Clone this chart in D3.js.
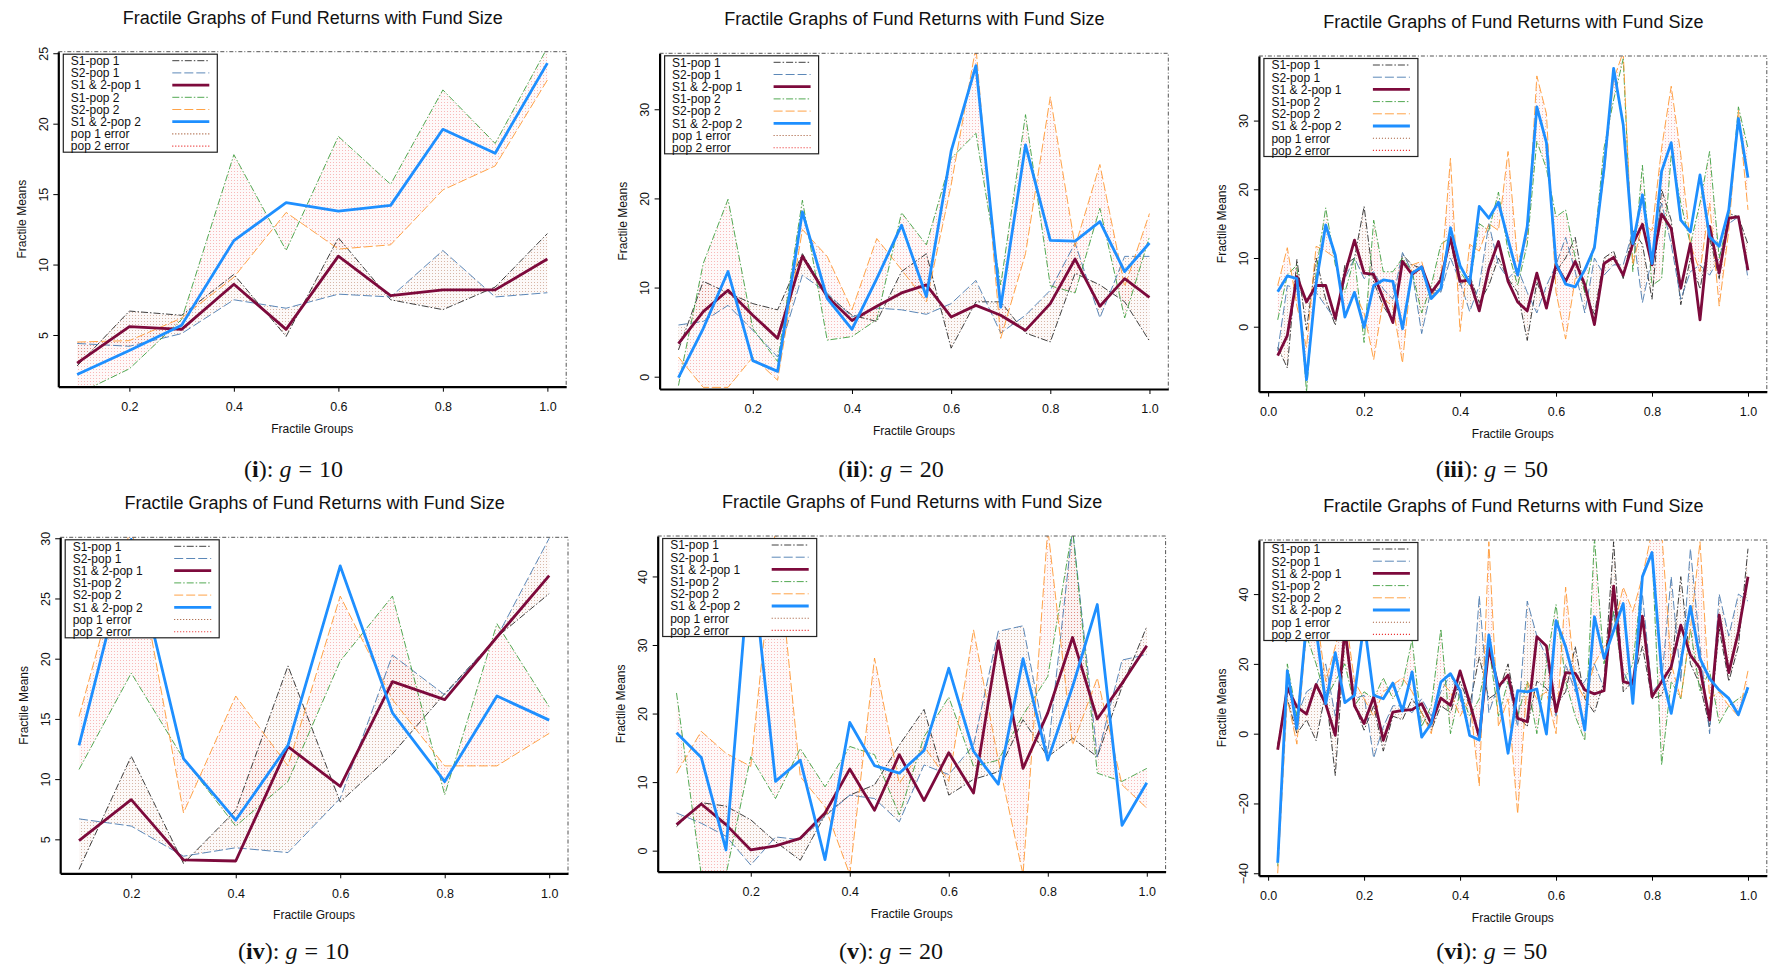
<!DOCTYPE html>
<html>
<head>
<meta charset="utf-8">
<script src="https://cdn.jsdelivr.net/npm/d3@7"></script>
<style>
  body { margin: 0; background: #fff; }
  svg { display: block; }
  text { font-family: "Liberation Sans", Arial, sans-serif; fill: #111; }
</style>
</head>
<body>
<svg id="chart" width="1769" height="970"></svg>
<script>
// ------------------
// Fractile groups (x categories)
// ------------------
const fr10 = [0.1, 0.2, 0.3, 0.4, 0.5, 0.6, 0.7, 0.8, 0.9, 1.0]
const fr20 = [0.05, 0.1, 0.15, 0.2, 0.25, 0.3, 0.35, 0.4, 0.45, 0.5,
  0.55, 0.6, 0.65, 0.7, 0.75, 0.8, 0.85, 0.9, 0.95, 1.0]
const fr50 = [0.02, 0.04, 0.06, 0.08, 0.10, 0.12, 0.14, 0.16, 0.18, 0.20,
  0.22, 0.24, 0.26, 0.28, 0.30, 0.32, 0.34, 0.36, 0.38, 0.40,
  0.42, 0.44, 0.46, 0.48, 0.50, 0.52, 0.54, 0.56, 0.58, 0.60,
  0.62, 0.64, 0.66, 0.68, 0.70, 0.72, 0.74, 0.76, 0.78, 0.80,
  0.82, 0.84, 0.86, 0.88, 0.90, 0.92, 0.94, 0.96, 0.98, 1.00]

// ------------------
// (i) g = 10
// ------------------
const i_S1p1 = [2.8, 6.7, 6.4, 9.3, 4.9, 11.9, 7.5, 6.8, 8.4, 12.2]
const i_S2p1 = [4.4, 4.2, 5.1, 7.5, 6.9, 7.9, 7.7, 11.0, 7.7, 8.0]
const i_S12p1 = [3.0, 5.6, 5.4, 8.6, 5.4, 10.6, 7.8, 8.2, 8.2, 10.4]
const i_S1p2 = [0.8, 2.6, 6.1, 17.8, 11.0, 19.1, 15.7, 22.4, 18.6, 25.4]
const i_S2p2 = [4.5, 4.6, 6.2, 9.1, 13.7, 11.1, 11.4, 15.3, 17.0, 23.1]
const i_S12p2 = [2.2, 3.9, 5.7, 11.7, 14.4, 13.8, 14.2, 19.6, 17.9, 24.3]

// ------------------
// (ii) g = 20
// ------------------
const ii_S1p1 = [3.0, 10.7, 9.4, 8.2, 7.5, 13.8, 9.2, 6.9, 6.2, 11.8, 13.8, 3.2, 8.4, 8.4, 4.9, 3.9, 11.6, 10.3, 8.4, 4.0]
const ii_S2p1 = [5.8, 6.2, 8.0, 5.2, 2.2, 11.4, 9.4, 6.7, 7.7, 7.5, 7.0, 8.2, 10.8, 4.9, 6.9, 9.7, 15.0, 6.6, 13.5, 13.5]
const ii_S12p1 = [3.7, 7.3, 9.7, 6.9, 4.3, 13.5, 9.0, 6.3, 7.9, 9.4, 10.3, 6.7, 8.0, 6.9, 5.2, 8.2, 13.2, 7.9, 11.0, 8.9]
const ii_S1p2 = [-1.0, 12.7, 19.9, 5.4, 1.7, 19.8, 4.1, 4.5, 6.4, 18.4, 14.8, 24.5, 27.3, 10.3, 29.4, 10.2, 9.4, 18.9, 6.6, 15.7]
const ii_S2p2 = [2.2, -1.2, -1.2, 2.2, -0.4, 16.5, 13.5, 7.5, 15.5, 12.0, 8.4, 21.5, 37.0, 4.3, 13.8, 31.4, 14.6, 23.8, 10.1, 18.3]
const ii_S12p2 = [-0.1, 5.4, 11.8, 1.8, 0.6, 18.5, 8.8, 5.3, 11.0, 17.0, 9.0, 25.3, 34.9, 7.8, 26.0, 15.3, 15.2, 17.4, 11.8, 15.0]

// ------------------
// (iii) g = 50
// ------------------
const iii_S1p1 = [-3.0, -6.0, 9.8, -0.5, 10.0, 4.0, 0.2, 9.0, 10.0, 17.5,
  6.5, 3.0, 0.8, 10.5, 9.0, 8.5, 4.0, 7.5, 12.5, 6.0,
  7.5, 3.5, 6.0, 10.0, 7.0, 5.0, -2.0, 6.5, 3.0, 8.0,
  10.0, 13.0, 5.0, 1.8, 10.0, 11.0, 7.0, 14.0, 12.0, 4.0,
  20.0, 15.5, 3.2, 10.0, 5.5, 13.0, 7.0, 16.5, 16.0, 12.0]
const iii_S2p1 = [-3.5, 6.0, 5.5, 4.0, 5.0, 3.0, 1.0, 7.0, 10.0, 7.0,
  8.0, 5.5, 4.0, 10.8, 8.0, -1.0, 5.5, 5.0, 10.0, 6.5,
  2.2, 6.0, 15.0, 9.0, 7.0, 8.5, 5.0, 2.0, 6.0, 9.0,
  13.0, 8.0, 2.0, 10.0, 7.5, 9.0, 9.0, 14.0, 3.5, 10.0,
  18.0, 12.0, 4.0, 8.0, 9.0, 7.5, 10.0, 15.0, 16.0, 7.0]
const iii_S12p1 = [-4.2, -1.3, 7.3, 3.6, 6.0, 6.0, 1.2, 7.7, 12.6, 7.8,
  7.6, 4.1, 0.6, 9.5, 7.6, 8.7, 5.0, 6.8, 13.0, 6.6,
  6.8, 2.3, 8.5, 12.4, 6.6, 3.6, 2.3, 7.8, 2.7, 9.0,
  6.6, 9.5, 6.1, 0.3, 9.2, 10.1, 7.5, 12.1, 14.9, 9.0,
  16.4, 14.3, 5.6, 12.1, 1.0, 14.6, 7.8, 15.8, 16.0, 8.2]
const iii_S1p2 = [1.0, 7.5, 9.0, -9.5, 8.0, 17.3, 9.0, 5.0, 10.0, -2.3,
  15.5, 8.0, 8.0, 10.0, 8.0, 2.0, 6.0, 12.0, 13.0, 8.0,
  6.0, 15.0, 14.0, 19.6, 11.0, 6.0, 12.0, 27.0, 23.0, 16.0,
  17.0, 10.0, 5.0, 12.0, 26.0, 33.0, 39.0, 8.0, 23.5, 6.0,
  7.0, 25.0, 18.0, 12.0, 18.0, 25.5, 10.0, 16.0, 32.0, 26.0]
const iii_S2p2 = [6.0, 11.5, 3.0, -3.0, 11.7, 11.0, 10.0, 1.5, 5.0, 2.0,
  -4.8, 4.0, 3.0, -5.3, 9.0, 9.5, 4.5, 7.0, 24.5, -0.7,
  12.0, 11.0, 15.0, 14.0, 25.5, 9.5, 13.0, 36.5, 31.0, 5.0,
  -1.8, 7.0, 8.0, 12.0, 22.0, 36.0, 40.0, 9.0, 15.0, 14.0,
  26.0, 35.0, 25.0, 12.0, 8.0, 18.0, 3.0, 14.0, 31.5, 17.0]
const iii_S12p2 = [5.1, 7.4, 7.0, -7.7, 6.3, 14.8, 10.4, 1.4, 5.0, -0.1,
  6.0, 6.8, 6.6, -0.3, 7.8, 8.7, 4.1, 5.6, 14.4, 8.9,
  6.3, 17.5, 15.8, 18.1, 12.7, 7.5, 14.6, 32.0, 26.8, 9.2,
  6.2, 5.8, 8.3, 11.5, 23.0, 37.6, 29.4, 12.1, 19.2, 9.2,
  22.6, 26.8, 15.5, 13.8, 22.1, 13.1, 11.7, 17.0, 30.3, 21.7]

// ------------------
// (iv) g = 10
// ------------------
const iv_S1p1 = [2.5, 11.9, 3.0, 7.4, 19.4, 8.1, 12.1, 17.1, 21.8, 25.4]
const iv_S2p1 = [6.7, 6.1, 3.6, 4.3, 3.9, 8.4, 20.3, 17.0, 21.8, 30.0]
const iv_S12p1 = [4.9, 8.3, 3.3, 3.2, 12.7, 9.4, 18.1, 16.6, 21.8, 26.9]
const iv_S1p2 = [10.8, 18.8, 11.7, 6.1, 9.8, 19.8, 25.2, 8.7, 22.9, 16.0]
const iv_S2p2 = [15.2, 31.0, 7.2, 16.9, 11.1, 25.2, 16.6, 11.1, 11.1, 13.8]
const iv_S12p2 = [12.8, 29.9, 11.7, 6.6, 12.8, 27.7, 15.5, 9.8, 16.9, 14.9]

// ------------------
// (v) g = 20
// ------------------
const v_S1p1 = [3.5, 7.0, 6.5, 4.5, 1.3, -1.4, 5.2, 8.1, 9.6, 15.4, 20.6, 8.1, 10.4, 11.5, 19.1, 13.7, 16.4, 13.7, 23.9, 32.7]
const v_S2p1 = [5.5, 4.0, 2.1, -2.1, 2.0, 1.6, 5.0, 8.1, 7.6, 4.2, 12.5, 11.1, 15.4, 32.0, 32.8, 14.2, 47.0, 13.7, 27.8, 28.6]
const v_S12p1 = [3.8, 6.8, 3.8, 0.1, 0.7, 1.8, 5.5, 11.9, 5.9, 14.0, 7.3, 14.3, 8.4, 30.6, 12.0, 20.1, 31.1, 19.2, 24.4, 29.9]
const v_S1p2 = [23.0, -3.5, -3.5, 13.7, 7.6, 14.9, 9.3, 15.2, 14.0, 5.2, 16.6, 22.4, 12.3, 13.2, 19.8, 25.4, 47.0, 11.3, 10.1, 12.0]
const v_S2p2 = [11.3, 17.4, 14.2, 12.3, 47.0, 10.8, 6.4, -3.5, 28.1, 9.8, 15.2, 10.1, 32.2, 13.2, -3.5, 47.0, 15.4, 25.2, 9.6, 6.2]
const v_S12p2 = [17.2, 13.6, 0.1, 44.0, 10.1, 13.2, -1.3, 18.7, 12.4, 11.3, 14.6, 26.6, 14.5, 9.7, 28.0, 13.2, 23.9, 35.9, 3.7, 9.9]

// ------------------
// (vi) g = 50
// ------------------
const vi_S1p1 = [-3, 10, 0, 4, -2, 12, -12, 28, 8, 1,
  8, -5, 5, 4, 10, 6, 1, 8, 6, 15,
  8, 22, 10, 12, 20, 5, 2, 15, 13, 8,
  12, 25, 10, 6, 15, 55, 12, 15, 25, 10,
  11, 18, 45, 20, 14, 2, 30, 15, 25, 53]
const vi_S2p1 = [-4, 14, 5, 12, 14, 20, 5, 30, 10, 11,
  -7, 2, 8, 8, 6, 10, 5, 12, 17, 10,
  0, 39.5, 6, 14, 15, 2, 38, 28, 22, 5,
  20, 12, 15, 20, 13, 35, 18, 12, 40, 12,
  15, 45, 15, 53, 25, 0, 40, 28, 40, 38]
const vi_S12p1 = [-4.6, 13.1, 7.7, 5.6, 14.1, 8.5, -0.5, 30.0, 8.0, 2.9,
  10.5, -1.9, 6.2, 6.7, 6.9, 8.6, 2.9, 10.2, 8.1, 18.0,
  9.0, -0.9, 24.5, 13.5, 16.8, 4.4, 3.4, 27.8, 25.1, 6.3,
  17.5, 17.3, 12.5, 11.4, 12.3, 42.3, 14.9, 14.2, 33.7, 10.6,
  14.9, 19.2, 31.1, 22.5, 18.7, 3.9, 34.0, 17.5, 29.2, 45.0]
const vi_S1p2 = [-38, 20, 5, 28, 20, 10, 15, 20, 8, 12,
  10, 16, 10, 14, 27, 2, 8, 30, 0, 12,
  5, 10, 25, 5, 15, 5, 15, 0, 20, 37,
  15, 5, -2, 56, 20, 35, 15, 20, 45, 52,
  -9, 15, 10, 30, 12, 18, 3, 8, 10, 12]
const vi_S2p2 = [-40, 10, -3, 30, 35, 15, 25, 35, 15, 10,
  5, 12, 14, 16, 12, 6, 0, 15, 12, 5,
  10, -15, 55, 2, 10, -23, 15, 10, 12, 0,
  42, 15, 10, 20, 25, 30, 42, 35, 45, 58,
  58, 20, 10, 30, 55, 10, 12, 8, 5, 18]
const vi_S12p2 = [-37.0, 18.0, 1.5, 32.0, 30.0, 8.6, 23.2, 8.9, 11.0, 32.0,
  11.0, 10.0, 14.5, 6.5, 17.7, -1.0, 2.9, 14.8, 17.2, 12.4,
  -0.5, -1.8, 28.3, 11.6, -5.6, 12.3, 12.0, 12.8, -0.1, 32.4,
  24.9, 14.4, 1.0, 33.5, 21.6, 29.5, 37.3, 8.7, 45.0, 51.9,
  17.5, 5.8, 20.5, 36.5, 21.5, 15.8, 12.5, 10.1, 5.4, 13.3]

// ------------------
// Tick labels
// ------------------
const xTicks02 = [0.2, 0.4, 0.6, 0.8, 1.0]
const xTicks00 = [0.0, 0.2, 0.4, 0.6, 0.8, 1.0]
const legendLabels = ['S1-pop 1', 'S2-pop 1', 'S1 & 2-pop 1', 'S1-pop 2', 'S2-pop 2', 'S1 & 2-pop 2', 'pop 1 error', 'pop 2 error']

// ------------------
// Line styles (same order as legend)
// ------------------
const lineStyles = [
  { color: '#2a2a2a', width: 0.9, dash: '7,2,1.5,2' },
  { color: '#4a7ab0', width: 0.9, dash: '9,3' },
  { color: '#7d0a3c', width: 2.8, dash: null },
  { color: '#3f9f3f', width: 0.9, dash: '7,2,1.5,2' },
  { color: '#ff9933', width: 0.9, dash: '9,3' },
  { color: '#1e8fff', width: 2.8, dash: null },
  { color: '#a0522d', width: 1.1, dash: '1,2' },
  { color: '#e82020', width: 1.1, dash: '1,2' }
]

const panels = [
  { num: 'i', g: 10, xs: fr10, s: [i_S1p1, i_S2p1, i_S12p1, i_S1p2, i_S2p2, i_S12p2],
    xDom: [0.064, 1.036], yDom: [1.33, 25.11], xTicks: xTicks02, yTicks: [5, 10, 15, 20, 25],
    box: [58.3, 51.7, 507.9, 335], cap: [293.5, 477] },
  { num: 'ii', g: 20, xs: fr20, s: [ii_S1p1, ii_S2p1, ii_S12p1, ii_S1p2, ii_S2p2, ii_S12p2],
    xDom: [0.012, 1.038], yDom: [-1.38, 36.28], xTicks: xTicks02, yTicks: [0, 10, 20, 30],
    box: [659.6, 53.3, 508.7, 335.7], cap: [891, 477] },
  { num: 'iii', g: 50, xs: fr50, s: [iii_S1p1, iii_S2p1, iii_S12p1, iii_S1p2, iii_S2p2, iii_S12p2],
    xDom: [-0.0192, 1.0392], yDom: [-9.46, 39.4], xTicks: xTicks00, yTicks: [0, 10, 20, 30],
    box: [1258.9, 56, 507.9, 335.7], cap: [1491.8, 477] },
  { num: 'iv', g: 10, xs: fr10, s: [iv_S1p1, iv_S2p1, iv_S12p1, iv_S1p2, iv_S2p2, iv_S12p2],
    xDom: [0.064, 1.036], yDom: [2.18, 30.08], xTicks: xTicks02, yTicks: [5, 10, 15, 20, 25, 30],
    box: [60.2, 537.3, 507.8, 336], cap: [293.5, 959] },
  { num: 'v', g: 20, xs: fr20, s: [v_S1p1, v_S2p1, v_S12p1, v_S1p2, v_S2p2, v_S12p2],
    xDom: [0.012, 1.038], yDom: [-3.07, 45.9], xTicks: xTicks02, yTicks: [0, 10, 20, 30, 40],
    box: [657.7, 536, 507.9, 335.7], cap: [891, 959] },
  { num: 'vi', g: 50, xs: fr50, s: [vi_S1p1, vi_S2p1, vi_S12p1, vi_S1p2, vi_S2p2, vi_S12p2],
    xDom: [-0.0192, 1.0392], yDom: [-40.7, 55.5], xTicks: xTicks00, yTicks: [-40, -20, 0, 20, 40],
    box: [1258.9, 540, 507.9, 335.7], cap: [1491.8, 959] }
]

const svg = d3.select('#chart')
const defs = svg.append('defs')

// stippled fills for the error fans
function dotPattern(id, color, base, dot) {
  const p = defs.append('pattern')
    .attr('id', id)
    .attr('width', 3).attr('height', 3)
    .attr('patternUnits', 'userSpaceOnUse')
  p.append('rect').attr('width', 3).attr('height', 3).attr('fill', color).attr('opacity', base)
  p.append('rect').attr('width', 1).attr('height', 1).attr('fill', color).attr('opacity', dot)
}
dotPattern('fan1', '#a0522d', 0.03, 0.4)
dotPattern('fan2', '#f05050', 0.03, 0.38)

panels.forEach((p, pi) => {
  const [left, top, w, h] = p.box
  const x = d3.scaleLinear().domain(p.xDom).range([left, left + w])
  const y = d3.scaleLinear().domain(p.yDom).range([top + h, top])

  const g = svg.append('g')

  // title
  g.append('text')
    .attr('x', left + w / 2 + 0.5)
    .attr('y', top - 28)
    .attr('text-anchor', 'middle')
    .style('font-size', '18px')
    .text('Fractile Graphs of Fund Returns with Fund Size')

  defs.append('clipPath').attr('id', `clip${pi}`)
    .append('rect').attr('x', left).attr('y', top).attr('width', w).attr('height', h)

  const plot = g.append('g').attr('clip-path', `url(#clip${pi})`)

  // error fans between S1 and S2 of each population
  const rows = p.xs.map((xv, k) => ({ x: xv, k }))
  const fan = (a, b) => d3.area()
    .x(d => x(d.x))
    .y0(d => y(a[d.k]))
    .y1(d => y(b[d.k]))
  plot.append('path').attr('d', fan(p.s[0], p.s[1])(rows)).attr('fill', 'url(#fan1)')
  plot.append('path').attr('d', fan(p.s[3], p.s[4])(rows)).attr('fill', 'url(#fan2)')

  // series lines
  const order = [0, 1, 3, 4, 2, 5]
  order.forEach(si => {
    const st = lineStyles[si]
    const line = d3.line().x(d => x(d.x)).y(d => y(p.s[si][d.k]))
    plot.append('path')
      .attr('d', line(rows))
      .attr('fill', 'none')
      .attr('stroke', st.color)
      .attr('stroke-width', st.width)
      .attr('stroke-dasharray', st.dash)
      .attr('stroke-linejoin', 'round')
  })

  // top/right frame (dash-dot)
  g.append('path')
    .attr('d', `M${left},${top}H${left + w}V${top + h}`)
    .attr('fill', 'none')
    .attr('stroke', '#555')
    .attr('stroke-width', 1)
    .attr('stroke-dasharray', '4,2,1,2')

  // legend
  const lx = left + 5, ly = top + 2.5
  const lg = g.append('g')
  lg.append('rect')
    .attr('x', lx).attr('y', ly).attr('width', 154).attr('height', 98)
    .attr('fill', '#fff').attr('stroke', '#222').attr('stroke-width', 1.2)
  legendLabels.forEach((lab, j) => {
    const cy = ly + 6.5 + j * 12.2
    lg.append('text')
      .attr('x', lx + 7.5).attr('y', cy + 4.3)
      .style('font-size', '12px')
      .text(lab)
    const st = lineStyles[j]
    lg.append('line')
      .attr('x1', lx + 109).attr('x2', lx + 146)
      .attr('y1', cy).attr('y2', cy)
      .attr('stroke', st.color)
      .attr('stroke-width', st.width)
      .attr('stroke-dasharray', st.dash)
  })

  // axes
  const xAxis = g.append('g')
    .attr('transform', `translate(0,${top + h})`)
    .call(d3.axisBottom(x).tickValues(p.xTicks).tickFormat(d3.format('.1f')).tickSize(5).tickSizeOuter(0))
  xAxis.select('.domain').attr('stroke-width', 2.2)
  xAxis.selectAll('.tick line').attr('stroke-width', 1)
  xAxis.selectAll('.tick text')
    .attr('y', 15.5)
    .style('font-size', '12.5px')
    .style('font-family', '"Liberation Sans", Arial, sans-serif')
    .attr('fill', '#111')

  const yAxis = g.append('g')
    .attr('transform', `translate(${left},0)`)
    .call(d3.axisLeft(y).tickValues(p.yTicks).tickSize(5).tickSizeOuter(0))
  yAxis.select('.domain').attr('stroke-width', 2.2)
  yAxis.selectAll('.tick text')
    .attr('x', 0).attr('dy', 0)
    .attr('transform', 'translate(-10.7,0) rotate(-90)')
    .attr('text-anchor', 'middle')
    .style('font-size', '12.5px')
    .style('font-family', '"Liberation Sans", Arial, sans-serif')
    .attr('fill', '#111')

  // axis titles
  g.append('text')
    .attr('x', left + w / 2)
    .attr('y', top + h + 46)
    .attr('text-anchor', 'middle')
    .style('font-size', '12px')
    .text('Fractile Groups')

  g.append('text')
    .attr('transform', `translate(${left - 32.6},${top + h / 2}) rotate(-90)`)
    .attr('text-anchor', 'middle')
    .style('font-size', '12px')
    .text('Fractile Means')

  // caption
  const cap = g.append('text')
    .attr('x', p.cap[0]).attr('y', p.cap[1])
    .attr('text-anchor', 'middle')
    .style('font-family', '"Liberation Serif", "DejaVu Serif", serif')
    .style('font-size', '24px')
  cap.append('tspan').text('(')
  cap.append('tspan').style('font-weight', 'bold').text(p.num)
  cap.append('tspan').text('):')
  cap.append('tspan').attr('dx', 6).style('font-style', 'italic').text('g')
  cap.append('tspan').attr('dx', 7).text('=')
  cap.append('tspan').attr('dx', 7).text(String(p.g))
})
</script>
</body>
</html>
